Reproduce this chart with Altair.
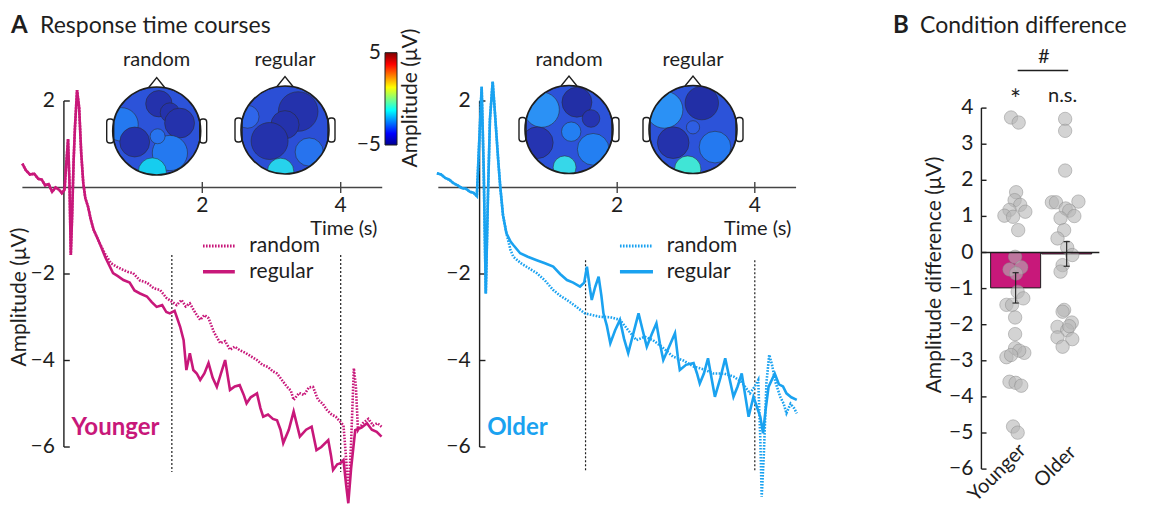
import altair as alt
import pandas as pd

W, H = 1149, 508
FONT = "Lato"
INK = "#1e1e1e"
MAG = "#C8187A"
BLU = "#1AA2F0"

# ---------------- Panel A: response time courses (time s, amplitude µV) ----------------
yng_shared_t = [-0.60, -0.55, -0.49, -0.43, -0.37, -0.32, -0.27, -0.22, -0.17, -0.12, -0.07, -0.03,
                0.01, 0.03, 0.06, 0.08, 0.10, 0.12, 0.14, 0.16, 0.19, 0.22, 0.25, 0.28, 0.31, 0.35,
                0.39, 0.43, 0.52]
yng_shared_v = [0.55, 0.40, 0.30, 0.32, 0.20, 0.18, 0.05, 0.08, -0.10, 0.00, -0.05, -0.13,
                -0.05, 0.45, 1.12, 0.15, -1.56, -0.60, 0.60, 1.40, 2.25, 1.85, 0.80, 0.10, -0.25, -0.45,
                -0.75, -0.98, -1.30]
yng_reg_t = [0.60, 0.71, 0.78, 0.86, 0.95, 1.02, 1.10, 1.20, 1.27, 1.34, 1.42, 1.48, 1.53, 1.60, 1.68,
             1.73, 1.77, 1.82, 1.87, 1.92, 1.97, 2.03, 2.09, 2.15, 2.21, 2.27, 2.33, 2.40, 2.47, 2.54,
             2.60, 2.64, 2.70, 2.79, 2.84, 2.88, 2.95, 3.02, 3.08, 3.13, 3.17, 3.25, 3.32, 3.37, 3.41,
             3.50, 3.58, 3.65, 3.72, 3.82, 3.86, 3.89, 3.95, 3.99, 4.04, 4.08, 4.11, 4.15, 4.21, 4.30,
             4.38, 4.45, 4.52, 4.59]
yng_reg_v = [-1.62, -1.98, -2.05, -2.14, -2.20, -2.38, -2.45, -2.52, -2.65, -2.76, -2.72, -2.88, -2.91,
             -2.85, -3.22, -3.53, -4.22, -3.83, -4.22, -4.30, -4.45, -4.30, -4.06, -4.40, -4.61, -4.30,
             -3.99, -4.68, -4.60, -4.57, -4.80, -4.99, -4.85, -4.76, -5.10, -5.30, -5.25, -5.35, -5.38,
             -5.60, -5.91, -5.60, -5.18, -5.50, -5.76, -5.60, -5.53, -6.07, -6.00, -5.84, -6.20, -6.53,
             -6.40, -6.38, -6.30, -6.90, -7.30, -6.50, -5.61, -5.55, -5.45, -5.60, -5.65, -5.76]
yng_rnd_t = [0.60, 0.68, 0.76, 0.85, 0.92, 1.00, 1.10, 1.20, 1.30, 1.39, 1.48, 1.56, 1.63, 1.70, 1.76,
             1.82, 1.90, 1.97, 2.03, 2.09, 2.17, 2.26, 2.33, 2.40, 2.47, 2.54, 2.62, 2.70, 2.79, 2.87,
             2.95, 3.02, 3.08, 3.15, 3.22, 3.28, 3.32, 3.40, 3.47, 3.54, 3.60, 3.67, 3.74, 3.80, 3.87,
             3.93, 3.99, 4.04, 4.08, 4.11, 4.15, 4.19, 4.22, 4.25, 4.32, 4.40, 4.47, 4.53, 4.59]
yng_rnd_v = [-1.55, -1.75, -1.83, -1.90, -1.95, -1.98, -2.15, -2.20, -2.33, -2.37, -2.55, -2.64, -2.72,
             -2.60, -2.75, -2.68, -2.90, -3.06, -2.95, -3.02, -3.35, -3.60, -3.55, -3.75, -3.68, -3.76,
             -3.82, -3.90, -3.99, -4.10, -4.15, -4.25, -4.30, -4.45, -4.60, -4.70, -4.91, -4.75, -4.80,
             -4.62, -4.61, -4.90, -5.00, -5.14, -5.25, -5.30, -5.41, -5.50, -6.30, -7.15, -5.90, -4.18,
             -4.60, -5.61, -5.45, -5.35, -5.50, -5.45, -5.53]

old_shared_t = [-0.62, -0.56, -0.50, -0.44, -0.38, -0.32, -0.26, -0.20, -0.14, -0.09, -0.04, -0.01,
                0.03, 0.06, 0.09, 0.12, 0.15, 0.19, 0.22, 0.27, 0.30, 0.34, 0.39]
old_shared_v = [0.33, 0.30, 0.22, 0.18, 0.10, 0.05, -0.01, -0.03, -0.10, -0.12, -0.20, 0.90,
                2.33, 0.40, -2.45, -0.30, 1.56, 2.45, 1.79, 0.64, 0.02, -0.64, -1.06]
old_reg_t = [0.45, 0.49, 0.59, 0.70, 0.83, 0.95, 1.07, 1.17, 1.27, 1.36, 1.46, 1.52, 1.56, 1.60, 1.63,
             1.68, 1.73, 1.77, 1.80, 1.85, 1.90, 1.97, 2.04, 2.10, 2.16, 2.23, 2.31, 2.37, 2.43, 2.50,
             2.57, 2.62, 2.67, 2.75, 2.84, 2.88, 2.91, 3.00, 3.11, 3.16, 3.20, 3.26, 3.32, 3.37, 3.42,
             3.50, 3.57, 3.63, 3.69, 3.75, 3.81, 3.86, 3.91, 3.98, 4.03, 4.08, 4.12, 4.16, 4.20, 4.29,
             4.35, 4.41, 4.46, 4.53, 4.61]
old_reg_v = [-1.25, -1.33, -1.52, -1.60, -1.68, -1.75, -1.83, -2.00, -2.14, -2.20, -2.29, -2.20, -1.83,
             -2.30, -2.60, -2.30, -2.06, -2.50, -2.91, -3.20, -3.60, -3.30, -3.06, -3.50, -3.83, -3.40,
             -2.91, -3.30, -3.68, -3.40, -3.14, -3.60, -3.99, -3.70, -3.37, -3.90, -4.22, -4.10, -4.06,
             -4.30, -4.53, -4.30, -3.95, -4.40, -4.84, -4.40, -3.95, -4.40, -4.84, -4.60, -4.30, -4.80,
             -5.30, -4.84, -5.07, -5.30, -5.68, -5.10, -4.61, -4.30, -4.55, -4.60, -4.76, -4.85, -4.91]
old_rnd_t = [0.45, 0.49, 0.60, 0.70, 0.83, 0.95, 1.07, 1.17, 1.27, 1.40, 1.53, 1.64, 1.75, 1.90, 2.04,
             2.16, 2.28, 2.40, 2.52, 2.66, 2.81, 2.96, 3.11, 3.25, 3.40, 3.55, 3.69, 3.81, 3.93, 4.00,
             4.05, 4.08, 4.10, 4.13, 4.17, 4.21, 4.25, 4.30, 4.37, 4.42, 4.46, 4.52, 4.57, 4.61]
old_rnd_v = [-1.45, -1.60, -1.75, -1.85, -1.98, -2.15, -2.37, -2.50, -2.60, -2.75, -2.91, -2.95, -2.99,
             -3.00, -3.06, -3.30, -3.53, -3.45, -3.53, -3.70, -3.91, -4.00, -4.14, -4.20, -4.30, -4.30,
             -4.37, -4.50, -4.76, -4.60, -4.45, -5.80, -7.15, -6.20, -4.50, -3.87, -4.10, -4.50, -4.84,
             -5.00, -5.22, -5.00, -5.10, -5.22]

a_yticks = [2, -2, -4, -6]
a_xticks = [2, 4]
yng_events = [1.56, 4.0]
old_events = [1.54, 4.0]

# ---------------- Panel B: condition difference (µV) ----------------
groups = ["Younger", "Older"]
bar_mean = [-0.98, -0.04]
bar_se = [0.42, 0.34]
yng_pts = [3.74, 3.60, 1.67, 1.45, 1.32, 1.18, 1.13, 1.02, 0.99, 0.62, -0.12, -0.47, -0.41, -0.58,
           -1.09, -1.27, -1.45, -1.45, -1.80, -2.26, -2.65, -2.78, -2.72, -2.90, -2.84, -3.58, -3.61,
           -3.69, -4.82, -4.99]
yng_jit = [-0.09, 0.06, 0.01, -0.02, 0.09, -0.12, 0.19, -0.22, -0.05, 0.05, -0.01, -0.12, 0.11, 0.01,
           0.04, 0.15, -0.18, -0.07, -0.01, -0.01, -0.01, 0.17, 0.07, -0.18, -0.09, -0.12, 0.00, 0.11,
           -0.05, 0.04]
old_pts = [3.70, 3.37, 2.27, 1.39, 1.39, 1.41, 1.22, 1.16, 1.01, 0.95, 0.62, 0.39, 0.14, -0.07, -0.35,
           -0.53, -1.59, -1.64, -2.06, -1.94, -2.15, -2.04, -2.35, -2.40, -2.61]
old_jit = [-0.03, -0.03, -0.03, -0.29, -0.21, 0.23, -0.02, 0.05, 0.15, -0.12, -0.05, -0.18, 0.01, 0.11,
           -0.08, -0.12, -0.05, -0.08, -0.18, 0.10, 0.01, 0.05, -0.18, 0.11, -0.08]
b_yticks = [4, 3, 2, 1, 0, -1, -2, -3, -4, -5, -6]

# ---------------- Topographies (schematic blobs: dx, dy, radius in head radii, µV) ----------------
head_cx = [156.7, 285.0, 569.0, 693.0]
head_cy = [131.0, 130.0, 129.5, 129.5]
head_label = ["random", "regular", "random", "regular"]
HEAD_R = 44
topo_yr = [(0, 0, 1.0, -3.5), (-0.80, 0.15, 0.38, -2.7), (0.05, 0.62, 0.30, -4.5), (0.30, 0.42, 0.22, -4.5),
           (0.52, 0.18, 0.34, -4.5), (-0.50, -0.25, 0.34, -4.5), (0.30, -0.50, 0.40, -2.7),
           (0.02, -0.12, 0.17, -2.8), (-0.10, -0.93, 0.32, -1.3)]
topo_yg = [(0, 0, 1.0, -3.6), (-0.85, 0.30, 0.26, -3.0), (0.30, 0.42, 0.45, -4.5), (0.00, 0.12, 0.32, -4.5),
           (-0.35, -0.25, 0.42, -4.5), (0.55, -0.50, 0.32, -2.8), (-0.10, -0.94, 0.30, -1.2)]
topo_or = [(0, 0, 1.0, -3.5), (-0.62, 0.45, 0.40, -2.3), (0.18, 0.62, 0.34, -4.6), (0.50, 0.25, 0.20, -4.4),
           (-0.72, -0.30, 0.36, -4.4), (0.05, -0.05, 0.22, -2.6), (0.55, -0.45, 0.36, -2.6),
           (-0.10, -0.86, 0.26, -1.1)]
topo_og = [(0, 0, 1.0, -3.5), (-0.65, 0.45, 0.42, -2.3), (0.20, 0.60, 0.38, -4.6), (-0.45, -0.30, 0.36, -4.5),
           (0.50, -0.40, 0.36, -2.7), (0.00, 0.05, 0.15, -3.2), (-0.12, -0.90, 0.30, -0.7)]
topo_dom = [-5, -4, -3, -2, -1, 0]
topo_rng = ["#1c2590", "#2a3fc8", "#2f66ea", "#3ea2f6", "#45dce6", "#80f2a0"]
jet_stops = [(0.0, "#00008f"), (0.125, "#0000ff"), (0.375, "#00ffff"), (0.625, "#ffff00"),
             (0.875, "#ff0000"), (1.0, "#800000")]


def XQ(f, sc):
    return alt.X(f, type="quantitative", scale=sc, axis=None)


def YQ(f, sc):
    return alt.Y(f, type="quantitative", scale=sc, axis=None)


# ---------------- canvas layer (titles, heads, colourbar) ----------------
SXC = alt.Scale(domain=[0, W], nice=False, zero=False)
SYC = alt.Scale(domain=[0, H], nice=False, zero=False, reverse=True)

blob_rows, ring_rows, ear_rows, nose_rows, lab_rows = [], [], [], [], []
for k, topo in enumerate([topo_yr, topo_yg, topo_or, topo_og]):
    cx, cy = head_cx[k], head_cy[k]
    for j, (dx, dy, r, val) in enumerate(topo):
        blob_rows.append(dict(x=cx + dx * HEAD_R, y=cy - dy * HEAD_R, size=(2 * r * HEAD_R) ** 2,
                              val=val, order=k * 100 + j))
    ring_rows.append(dict(x=cx, y=cy))
    ear_rows.append(dict(x=cx - HEAD_R - 6, x2=cx - HEAD_R + 1, y=cy - 12, y2=cy + 12))
    ear_rows.append(dict(x=cx + HEAD_R - 1, x2=cx + HEAD_R + 6, y=cy - 12, y2=cy + 12))
    for j, (ox, oy) in enumerate([(-8, -HEAD_R + 0.5), (0, -HEAD_R - 9.5), (8, -HEAD_R + 0.5)]):
        nose_rows.append(dict(x=cx + ox, y=cy + oy, head=k, o=j))
    lab_rows.append(dict(x=cx, y=66, text=head_label[k]))

blobs = alt.Chart(pd.DataFrame(blob_rows)).mark_circle(
    opacity=1, stroke="#2b2b2b", strokeWidth=0.9, strokeOpacity=0.6).encode(
    x=XQ("x", SXC), y=YQ("y", SYC), size=alt.Size("size:Q", scale=None),
    color=alt.Color("val:Q", scale=alt.Scale(domain=topo_dom, range=topo_rng), legend=None),
    order=alt.Order("order:Q"))
ring = alt.Chart(pd.DataFrame(ring_rows)).mark_point(
    shape="circle", filled=False, color="white", opacity=1, strokeWidth=18,
    size=(2 * (HEAD_R + 9)) ** 2).encode(x=XQ("x", SXC), y=YQ("y", SYC))
ears = alt.Chart(pd.DataFrame(ear_rows)).mark_rect(
    fill="white", stroke=INK, strokeWidth=1.4, cornerRadius=3).encode(
    x=XQ("x", SXC), x2="x2", y=YQ("y", SYC), y2="y2")
nose = alt.Chart(pd.DataFrame(nose_rows)).mark_line(color=INK, strokeWidth=1.4).encode(
    x=XQ("x", SXC), y=YQ("y", SYC), detail="head:N", order="o:Q")
outline = alt.Chart(pd.DataFrame(ring_rows)).mark_point(
    shape="circle", filled=False, color=INK, opacity=1, strokeWidth=1.6,
    size=(2 * HEAD_R) ** 2).encode(x=XQ("x", SXC), y=YQ("y", SYC))
head_labels = alt.Chart(pd.DataFrame(lab_rows)).mark_text(
    font=FONT, fontSize=20, color=INK, baseline="alphabetic").encode(
    x=XQ("x", SXC), y=YQ("y", SYC), text="text:N")

grad = alt.LinearGradient(gradient="linear",
                          stops=[alt.GradientStop(offset=o, color=c) for o, c in jet_stops],
                          x1=0, x2=0, y1=1, y2=0)
cbar = alt.Chart(pd.DataFrame([dict(x=385, x2=397, y=52.7, y2=145)])).mark_rect(
    fill=grad, stroke=INK, strokeWidth=1).encode(x=XQ("x", SXC), x2="x2", y=YQ("y", SYC), y2="y2")
cbar_lab = alt.Chart(pd.DataFrame([dict(x=381, y=53, text="5"), dict(x=381, y=145, text="\u22125")])).mark_text(
    font=FONT, fontSize=21, color=INK, align="right", baseline="middle").encode(
    x=XQ("x", SXC), y=YQ("y", SYC), text="text:N")

rot_titles = alt.Chart(pd.DataFrame([
    dict(x=411, y=98, text="Amplitude (\u03bcV)"),
    dict(x=20, y=297, text="Amplitude (\u03bcV)"),
    dict(x=935, y=275, text="Amplitude difference (\u03bcV)"),
])).mark_text(font=FONT, fontSize=21, color=INK, angle=270, align="center", baseline="middle").encode(
    x=XQ("x", SXC), y=YQ("y", SYC), text="text:N")

bold_titles = alt.Chart(pd.DataFrame([dict(x=11, y=33, text="A"), dict(x=893, y=33, text="B")])).mark_text(
    font=FONT, fontSize=24, fontWeight="bold", color=INK, align="left", baseline="alphabetic").encode(
    x=XQ("x", SXC), y=YQ("y", SYC), text="text:N")
titles = alt.Chart(pd.DataFrame([dict(x=40, y=33, text="Response time courses"),
                                 dict(x=920, y=33, text="Condition difference")])).mark_text(
    font=FONT, fontSize=23, color=INK, align="left", baseline="alphabetic").encode(
    x=XQ("x", SXC), y=YQ("y", SYC), text="text:N")

canvas = alt.layer(blobs, ring, ears, nose, outline, head_labels, cbar, cbar_lab,
                   rot_titles, bold_titles, titles)

# ---------------- Panel A groups ----------------
SYA = alt.Scale(domain=[-7.41, 4.335], nice=False, zero=False)


def panel_a(sx, sh_t, sh_v, reg_t, reg_v, rnd_t, rnd_v, color, name, events, ev_top,
            leg_t0, leg_t1, leg_text_t, tick_len):
    reg = pd.DataFrame(dict(t=sh_t + reg_t, v=sh_v + reg_v))
    rnd = pd.DataFrame(dict(t=sh_t + rnd_t, v=sh_v + rnd_v))
    enc = dict(x=XQ("t", sx), y=YQ("v", SYA))
    l_rnd = alt.Chart(rnd).mark_line(color=color, strokeWidth=2.6, strokeDash=[1.6, 1.4]).encode(**enc)
    l_reg = alt.Chart(reg).mark_line(color=color, strokeWidth=2.6).encode(**enc)

    xaxis = alt.Chart(pd.DataFrame([dict(t=-0.6, t2=4.6, v=0)])).mark_rule(color="#444", strokeWidth=1.6).encode(
        x=XQ("t", sx), x2="t2", y=YQ("v", SYA))
    yaxis = alt.Chart(pd.DataFrame([dict(t=0, v=2, v2=-6)])).mark_rule(color=INK, strokeWidth=1.4).encode(
        x=XQ("t", sx), y=YQ("v", SYA), y2="v2")
    yt = pd.DataFrame(dict(v=a_yticks, t=[0] * 4, t2=[tick_len] * 4,
                           text=[str(v).replace("-", "\u2212") for v in a_yticks]))
    yticks = alt.Chart(yt).mark_rule(color=INK, strokeWidth=1.4).encode(
        x=XQ("t", sx), x2="t2", y=YQ("v", SYA))
    ylabs = alt.Chart(yt).mark_text(font=FONT, fontSize=21, color=INK, align="right", baseline="middle",
                                    dx=-9).encode(x=XQ("t", sx), y=YQ("v", SYA), text="text:N")
    xt = pd.DataFrame(dict(t=a_xticks, v=[0.13] * 2, v2=[-0.13] * 2, text=[str(t) for t in a_xticks]))
    xticks = alt.Chart(xt).mark_rule(color="#444", strokeWidth=1.4).encode(
        x=XQ("t", sx), y=YQ("v", SYA), y2="v2")
    xlabs = alt.Chart(xt).mark_text(font=FONT, fontSize=21, color=INK, baseline="top", dy=13).encode(
        x=XQ("t", sx), y=YQ("v", SYA), text="text:N")
    tlab = alt.Chart(pd.DataFrame([dict(t=4.53, v=0, text="Time (s)")])).mark_text(
        font=FONT, fontSize=20, color=INK, align="right", baseline="middle", dy=42).encode(
        x=XQ("t", sx), y=YQ("v", SYA), text="text:N")
    ev = alt.Chart(pd.DataFrame(dict(t=events, v=[ev_top] * 2, v2=[-6.58] * 2))).mark_rule(
        color=INK, strokeWidth=1.2, strokeDash=[2, 2]).encode(x=XQ("t", sx), y=YQ("v", SYA), y2="v2")
    leg = pd.DataFrame(dict(t=[leg_t0] * 2, t2=[leg_t1] * 2, v=[-1.35, -1.95],
                            tt=[leg_text_t] * 2, text=["random", "regular"]))
    leg_rnd = alt.Chart(leg.iloc[[0]]).mark_rule(color=color, strokeWidth=3, strokeDash=[1.6, 1.4]).encode(
        x=XQ("t", sx), x2="t2", y=YQ("v", SYA))
    leg_reg = alt.Chart(leg.iloc[[1]]).mark_rule(color=color, strokeWidth=3.5).encode(
        x=XQ("t", sx), x2="t2", y=YQ("v", SYA))
    leg_txt = alt.Chart(leg).mark_text(font=FONT, fontSize=21, color=INK, align="left", baseline="middle").encode(
        x=XQ("tt", sx), y=YQ("v", SYA), text="text:N")
    glab = alt.Chart(pd.DataFrame([dict(t=0.11, v=-5.72, text=name)])).mark_text(
        font=FONT, fontSize=24, fontWeight="bold", color=color, align="left", baseline="alphabetic").encode(
        x=XQ("t", sx), y=YQ("v", SYA), text="text:N")
    return alt.layer(xaxis, yaxis, yticks, ylabs, xticks, xlabs, tlab, ev, l_rnd, l_reg,
                     leg_rnd, leg_reg, leg_txt, glab)


SX_Y = alt.Scale(domain=[-63.9 / 69.2, (W - 63.9) / 69.2], nice=False, zero=False)
SX_O = alt.Scale(domain=[-479.6 / 68.8, (W - 479.6) / 68.8], nice=False, zero=False)
young = panel_a(SX_Y, yng_shared_t, yng_shared_v, yng_reg_t, yng_reg_v, yng_rnd_t, yng_rnd_v,
                MAG, "Younger", yng_events, -1.56, 2.01, 2.47, 2.68, 0.085)
older = panel_a(SX_O, old_shared_t, old_shared_v, old_reg_t, old_reg_v, old_rnd_t, old_rnd_v,
                BLU, "Older", old_events, -1.68, 2.04, 2.52, 2.72, 0.085)

# ---------------- Panel B ----------------
SXB = alt.Scale(domain=[-1019.5 / 51.5, (W - 1019.5) / 51.5], nice=False, zero=False)
SYB = alt.Scale(domain=[-(H - 252.5) / 36.1, 252.5 / 36.1], nice=False, zero=False)
B_AX = -0.67

bars_df = pd.DataFrame(dict(i=[0, 1], g=groups, mean=bar_mean, se=bar_se, zero=[0, 0]))
bars_df["lo"] = bars_df["mean"] - bars_df["se"]
bars_df["hi"] = bars_df["mean"] + bars_df["se"]
caps = pd.DataFrame(dict(i=[0, 0, 1, 1], v=[bars_df["lo"][0], bars_df["hi"][0],
                                             bars_df["lo"][1], bars_df["hi"][1]]))
caps["i0"] = caps["i"] - 0.06
caps["i1"] = caps["i"] + 0.06
pts = pd.DataFrame(dict(i=[0 + j for j in yng_jit] + [1 + j for j in old_jit], v=yng_pts + old_pts))

bt = pd.DataFrame(dict(v=b_yticks, i=[B_AX] * len(b_yticks), i2=[B_AX + 0.1] * len(b_yticks),
                       text=[str(v).replace("-", "\u2212") for v in b_yticks]))
b_yaxis = alt.Chart(pd.DataFrame([dict(i=B_AX, v=4, v2=-6)])).mark_rule(color=INK, strokeWidth=1.4).encode(
    x=XQ("i", SXB), y=YQ("v", SYB), y2="v2")
b_ticks = alt.Chart(bt).mark_rule(color=INK, strokeWidth=1.4).encode(x=XQ("i", SXB), x2="i2", y=YQ("v", SYB))
b_labs = alt.Chart(bt).mark_text(font=FONT, fontSize=21, color=INK, align="right", baseline="middle",
                                 dx=-8).encode(x=XQ("i", SXB), y=YQ("v", SYB), text="text:N")
b_bars = alt.Chart(bars_df).mark_bar(size=50, color=MAG, stroke=INK, strokeWidth=1).encode(
    x=XQ("i", SXB), y=YQ("mean", SYB), y2="zero")
b_pts = alt.Chart(pts).mark_circle(size=180, color="#b5b5b5", fillOpacity=0.6, stroke="#8a8a8a",
                                   strokeWidth=0.8, strokeOpacity=0.6, opacity=1).encode(
    x=XQ("i", SXB), y=YQ("v", SYB))
b_err = alt.Chart(bars_df).mark_rule(color=INK, strokeWidth=1.1).encode(
    x=XQ("i", SXB), y=YQ("lo", SYB), y2="hi")
b_caps = alt.Chart(caps).mark_rule(color=INK, strokeWidth=1.1).encode(x=XQ("i0", SXB), x2="i1", y=YQ("v", SYB))
b_zero = alt.Chart(pd.DataFrame([dict(i=B_AX, i2=1.64, v=0)])).mark_rule(color=INK, strokeWidth=1.6).encode(
    x=XQ("i", SXB), x2="i2", y=YQ("v", SYB))
b_xlab = alt.Chart(pd.DataFrame(dict(i=[0.14, 1.12], v=[-5.4, -5.45], text=groups))).mark_text(
    font=FONT, fontSize=20, color=INK, angle=315, align="right", baseline="middle").encode(
    x=XQ("i", SXB), y=YQ("v", SYB), text="text:N")
b_star = alt.Chart(pd.DataFrame(dict(i=[0.0], v=[4.2], text=["*"]))).mark_text(
    font=FONT, fontSize=26, color=INK, align="center", baseline="middle").encode(
    x=XQ("i", SXB), y=YQ("v", SYB), text="text:N")
b_sig = alt.Chart(pd.DataFrame(dict(i=[0.92, 0.553], v=[4.33, 5.42], text=["n.s.", "#"]))).mark_text(
    font=FONT, fontSize=20, color=INK, align="center", baseline="middle").encode(
    x=XQ("i", SXB), y=YQ("v", SYB), text="text:N")
b_bracket = alt.Chart(pd.DataFrame([dict(i=0.04, i2=1.03, v=5.04)])).mark_rule(color=INK, strokeWidth=1.4).encode(
    x=XQ("i", SXB), x2="i2", y=YQ("v", SYB))
panel_b = alt.layer(b_yaxis, b_ticks, b_labs, b_bars, b_pts, b_err, b_caps, b_zero, b_xlab,
                    b_star, b_sig, b_bracket)

chart = alt.layer(canvas, young, older, panel_b).resolve_scale(
    x="independent", y="independent").properties(
    width=W, height=H, padding=0, autosize=alt.AutoSizeParams(type="none")).configure_view(strokeWidth=0)

chart.save("out.html", embed_options={"renderer": "svg", "actions": False})
